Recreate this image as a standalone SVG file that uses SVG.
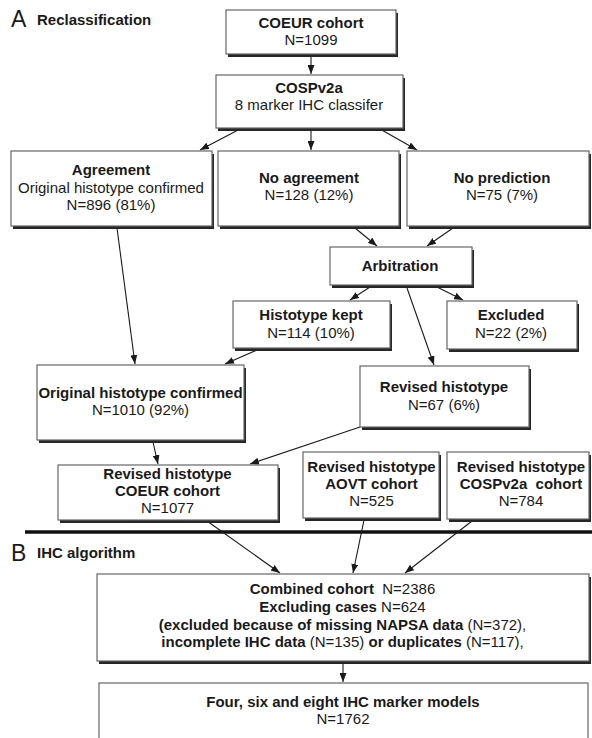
<svg xmlns="http://www.w3.org/2000/svg" width="592" height="738" viewBox="0 0 592 738">
<style>
.sh{fill:#262626}
.bx{fill:#fff;stroke:#666;stroke-width:1.2}
text{font-family:"Liberation Sans",Arial,sans-serif;font-size:15px;fill:#1a1a1a;text-anchor:middle}
.b{font-weight:bold}
.n{font-weight:normal}
.ttl{text-anchor:start}
.big{font-size:23px;font-weight:normal;text-anchor:start}
.c line{stroke:#1a1a1a;stroke-width:1.1;marker-end:url(#ah)}
</style>
<defs>
<marker id="ah" markerUnits="userSpaceOnUse" markerWidth="9" markerHeight="7" refX="9" refY="3.5" orient="auto">
<path d="M0,0 L9,3.5 L0,7 z" fill="#1a1a1a"/>
</marker>
</defs>
<rect width="592" height="738" fill="#fff"/>
<g id="titleA"><text class="big" x="11" y="27">A</text><text class="b ttl" x="37" y="25">Reclassification</text></g>
<g id="titleB"><text class="big" x="11" y="561">B</text><text class="b ttl" x="37" y="558">IHC algorithm</text></g>
<line x1="25" y1="532" x2="592" y2="532" stroke="#111" stroke-width="3.5"/>

<g class="c" id="connectors">
<line x1="311" y1="54" x2="311" y2="74"/>
<line x1="240" y1="129" x2="200" y2="150"/>
<line x1="311" y1="129" x2="311" y2="150"/>
<line x1="380" y1="129" x2="417" y2="150"/>
<line x1="355" y1="228" x2="377" y2="246"/>
<line x1="453" y1="228" x2="427" y2="246"/>
<line x1="370" y1="287" x2="350" y2="300"/>
<line x1="437" y1="287" x2="463" y2="300"/>
<line x1="407" y1="288" x2="434" y2="365"/>
<line x1="117" y1="228" x2="135" y2="364"/>
<line x1="257" y1="350" x2="225" y2="364"/>
<line x1="153" y1="442" x2="158" y2="464"/>
<line x1="360" y1="427" x2="250" y2="464"/>
<line x1="207" y1="521" x2="280" y2="573"/>
<line x1="364" y1="520" x2="353" y2="573"/>
<line x1="472" y1="521" x2="405" y2="573"/>
<line x1="343" y1="664" x2="343" y2="682"/>
</g>

<g id="coeur"><rect class="sh" x="228" y="13" width="170" height="44"/><rect class="bx" x="226" y="10" width="170" height="44"/>
<text class="b" x="311" y="28">COEUR cohort</text><text x="311" y="45">N=1099</text></g>

<g id="cospv2a"><rect class="sh" x="218" y="78" width="187" height="53"/><rect class="bx" x="216" y="75" width="187" height="53"/>
<text class="b" x="309" y="93">COSPv2a</text><text x="309" y="110">8 marker IHC classifer</text></g>

<g id="agreement"><rect class="sh" x="13" y="154" width="201" height="75"/><rect class="bx" x="11" y="151" width="201" height="75"/>
<text class="b" x="111" y="175">Agreement</text><text x="111" y="193">Original histotype confirmed</text><text x="111" y="210">N=896 (81%)</text></g>

<g id="noagreement"><rect class="sh" x="220" y="154" width="181" height="75"/><rect class="bx" x="218" y="151" width="181" height="75"/>
<text class="b" x="309" y="183">No agreement</text><text x="309" y="200">N=128 (12%)</text></g>

<g id="noprediction"><rect class="sh" x="409" y="154" width="182" height="75"/><rect class="bx" x="407" y="151" width="182" height="75"/>
<text class="b" x="502" y="183">No prediction</text><text x="502" y="200">N=75 (7%)</text></g>

<g id="arbitration"><rect class="sh" x="332" y="250" width="142" height="38"/><rect class="bx" x="330" y="247" width="142" height="38"/>
<text class="b" x="400" y="271">Arbitration</text></g>

<g id="kept"><rect class="sh" x="235" y="304" width="157" height="47"/><rect class="bx" x="233" y="301" width="157" height="47"/>
<text class="b" x="311" y="320">Histotype kept</text><text x="311" y="338">N=114 (10%)</text></g>

<g id="excluded"><rect class="sh" x="449" y="304" width="130" height="48"/><rect class="bx" x="447" y="301" width="130" height="48"/>
<text class="b" x="511" y="320">Excluded</text><text x="511" y="338">N=22 (2%)</text></g>

<g id="original"><rect class="sh" x="39" y="368" width="207" height="75"/><rect class="bx" x="37" y="365" width="207" height="75"/>
<text class="b" x="140.5" y="398">Original histotype confirmed</text><text x="140.5" y="415">N=1010 (92%)</text></g>

<g id="revised"><rect class="sh" x="362" y="369" width="169" height="61"/><rect class="bx" x="360" y="366" width="169" height="61"/>
<text class="b" x="444" y="392">Revised histotype</text><text x="444" y="410">N=67 (6%)</text></g>

<g id="revcoeur"><rect class="sh" x="60" y="468" width="220" height="55"/><rect class="bx" x="58" y="465" width="220" height="55"/>
<text class="b" x="167.5" y="479">Revised histotype</text><text class="b" x="167.5" y="496">COEUR cohort</text><text x="167.5" y="513">N=1077</text></g>

<g id="revaovt"><rect class="sh" x="305" y="455" width="136" height="66"/><rect class="bx" x="303" y="452" width="136" height="66"/>
<text class="b" x="371.5" y="472">Revised histotype</text><text class="b" x="371.5" y="489">AOVT cohort</text><text x="371.5" y="506">N=525</text></g>

<g id="revcosp"><rect class="sh" x="449" y="455" width="142" height="67"/><rect class="bx" x="447" y="452" width="142" height="67"/>
<text class="b" x="521" y="472">Revised histotype</text><text class="b" x="521" y="489" xml:space="preserve">COSPv2a  cohort</text><text x="521" y="506">N=784</text></g>

<g id="combined"><rect class="sh" x="99" y="577" width="492" height="87"/><rect class="bx" x="97" y="574" width="492" height="87"/>
<text x="342.5" y="594" xml:space="preserve"><tspan class="b">Combined cohort  </tspan><tspan class="n">N=2386</tspan></text>
<text x="342.5" y="612"><tspan class="b">Excluding cases </tspan><tspan class="n">N=624</tspan></text>
<text x="342.5" y="630"><tspan class="b">(excluded because of missing NAPSA data </tspan><tspan class="n">(N=372),</tspan></text>
<text x="342.5" y="647"><tspan class="b">incomplete IHC data </tspan><tspan class="n">(N=135)</tspan><tspan class="b"> or duplicates </tspan><tspan class="n">(N=117),</tspan></text></g>

<g id="models"><rect class="bx" x="99" y="683" width="489" height="60"/>
<text class="b" x="343" y="707">Four, six and eight IHC marker models</text><text x="343" y="724">N=1762</text></g>
</svg>
